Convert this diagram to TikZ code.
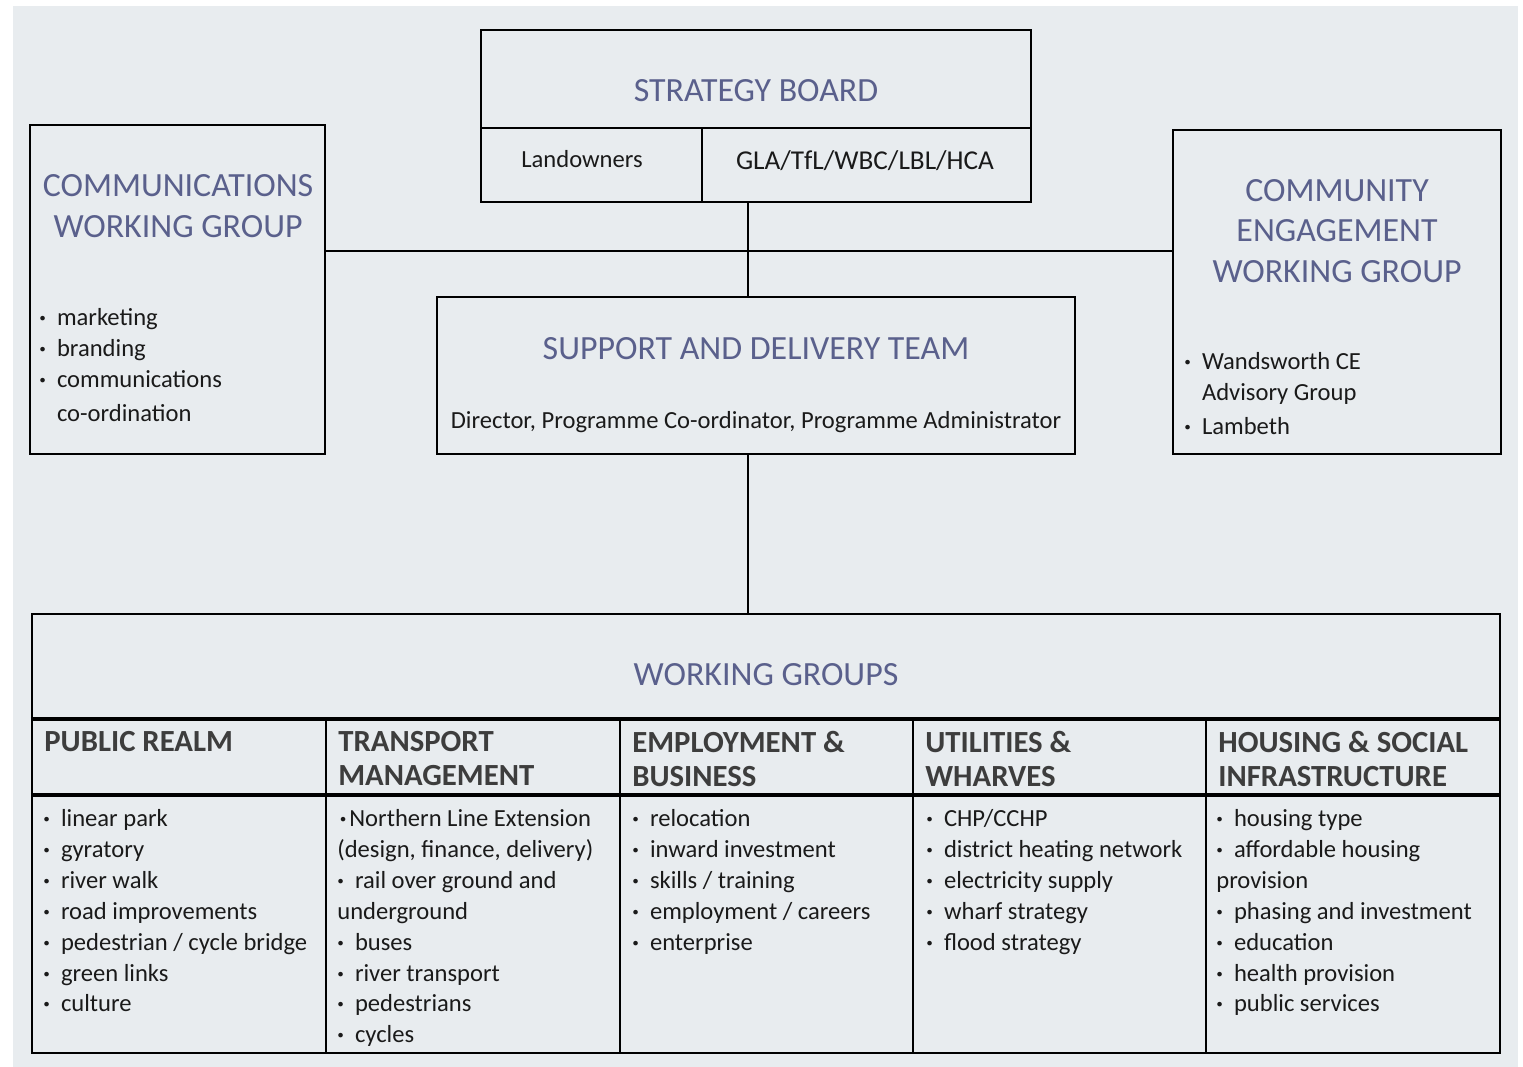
\documentclass[tikz,border=0pt]{standalone}
\usepackage{fontspec}
\setmainfont{Carlito}
\usepackage{xcolor}
\usepackage{tikz}
\usetikzlibrary{positioning}
\usetikzlibrary{fit}

\definecolor{panelgrey}{HTML}{E8ECEF}
\definecolor{titleblue}{HTML}{5A608C}
\definecolor{headgrey}{HTML}{3D3D3D}
\definecolor{itemblack}{HTML}{1A1A1A}

\newcommand{\itemdot}{\textbf{·}\hspace{0.45em}}

\begin{document}
\begin{tikzpicture}
  [
    x=0.02cm, y=-0.02cm,
    cell/.style={draw=black, line width=1.4pt, inner sep=0pt},
    rule/.style={draw=black, line width=1.9pt},
    title/.style={text=titleblue, align=center, inner sep=0pt,
      font=\fontsize{19.3}{23.2}\selectfont},
    colhead/.style={text=headgrey, align=left, anchor=north west, inner sep=0pt,
      font=\bfseries\fontsize{17.5}{19.3}\selectfont},
    items/.style={text=itemblack, align=left, anchor=north west, inner sep=0pt,
      font=\fontsize{14}{17.6}\selectfont},
    link/.style={draw=black, line width=1.4pt}
  ]

  \useasboundingbox (0,0) rectangle (1523,1067);
  \fill [panelgrey] (13,6) rectangle (1518,1067);

  % strategy board
  \node (board)      [cell, fit={(481,30) (1031,202)}] {};
  \node (landowners) [cell, fit={(481,128) (702,202)}] {};
  \node (agencies)   [cell, fit={(702,128) (1031,202)}] {};
  \node (boardTitle) at (756,91)  [title] {STRATEGY BOARD};
  \node (landText)   at (582,159) [items, anchor=center] {Landowners};
  \node (agencyText) at (865,161) [items, anchor=center, font=\fontsize{15.5}{17.6}\selectfont]
    {GLA/TfL/WBC/LBL/HCA};

  % side groups
  \node (comm) [cell, fit={(30,125) (325,454)}] {};
  \node (commTitle) at (178,206) [title] {COMMUNICATIONS\\WORKING GROUP};
  \node (commList)  at (39,308)  [items]
    {\itemdot marketing\\\itemdot branding\\\itemdot communications\\[1.7pt]%
     \hphantom{\itemdot}co-ordination};

  \node (community) [cell, fit={(1173,130) (1501,454)}] {};
  \node (communityTitle) at (1337,231) [title] {COMMUNITY\\ENGAGEMENT\\WORKING GROUP};
  \node (communityList)  at (1184,352) [items]
    {\itemdot Wandsworth CE\\\hphantom{\itemdot}Advisory Group\\[1.7pt]\itemdot Lambeth};

  % support team
  \node (team) [cell, fit={(437,297) (1075,454)}] {};
  \node (teamTitle) at (756,349) [title] {SUPPORT AND DELIVERY TEAM};
  \node (teamText)  at (756,422) [items, anchor=center]
    {Director, Programme Co-ordinator, Programme Administrator};

  % working groups
  \node (groups) [cell, fit={(32,614) (1500,1053)}] {};
  \node (groupsTitle) at (766,675) [title] {WORKING GROUPS};

  \node (realmHead)      [cell, fit={(32,720) (326,796)}]    {};
  \node (realmBody)      [cell, fit={(32,796) (326,1053)}]   {};
  \node (transportHead)  [cell, fit={(326,720) (620,796)}]   {};
  \node (transportBody)  [cell, fit={(326,796) (620,1053)}]  {};
  \node (employmentHead) [cell, fit={(620,720) (913,796)}]   {};
  \node (employmentBody) [cell, fit={(620,796) (913,1053)}]  {};
  \node (utilitiesHead)  [cell, fit={(913,720) (1206,796)}]  {};
  \node (utilitiesBody)  [cell, fit={(913,796) (1206,1053)}] {};
  \node (housingHead)    [cell, fit={(1206,720) (1500,796)}] {};
  \node (housingBody)    [cell, fit={(1206,796) (1500,1053)}] {};
  \draw [rule] (realmHead.north west) -- (housingHead.north east);
  \draw [rule] (realmBody.north west) -- (housingBody.north east);

  \node (realmTitle)      at (44,731)   [colhead] {PUBLIC REALM};
  \node (transportTitle)  at (338,731)  [colhead] {TRANSPORT\\MANAGEMENT};
  \node (employmentTitle) at (632,731)  [colhead] {EMPLOYMENT \&\\BUSINESS};
  \node (utilitiesTitle)  at (925,731)  [colhead] {UTILITIES \&\\WHARVES};
  \node (housingTitle)    at (1218,731) [colhead] {HOUSING \& SOCIAL\\INFRASTRUCTURE};

  \node (realmList) at (43,809) [items]
    {\itemdot linear park\\\itemdot gyratory\\\itemdot river walk\\\itemdot road improvements\\
     \itemdot pedestrian / cycle bridge\\\itemdot green links\\\itemdot culture};
  \node (transportList) at (337,809) [items]
    {\hspace{0.1em}\textbf{·}\hspace{0.12em}Northern Line Extension\\(design, finance, delivery)\\
     \itemdot rail over ground and\\underground\\\itemdot buses\\\itemdot river transport\\
     \itemdot pedestrians\\\itemdot cycles};
  \node (employmentList) at (632,809) [items]
    {\itemdot relocation\\\itemdot inward investment\\\itemdot skills / training\\
     \itemdot employment / careers\\\itemdot enterprise};
  \node (utilitiesList) at (926,809) [items]
    {\itemdot CHP/CCHP\\\itemdot district heating network\\\itemdot electricity supply\\
     \itemdot wharf strategy\\\itemdot flood strategy};
  \node (housingList) at (1216,809) [items]
    {\itemdot housing type\\\itemdot affordable housing\\provision\\\itemdot phasing and investment\\
     \itemdot education\\\itemdot health provision\\\itemdot public services};

  % connectors
  \coordinate (spine) at (748,251);
  \draw [link] (spine |- board.south) -- (spine |- team.north);
  \draw [link] (comm.east |- spine) -- (community.west |- spine);
  \draw [link] (spine |- team.south) -- (spine |- groups.north);
\end{tikzpicture}
\end{document}
